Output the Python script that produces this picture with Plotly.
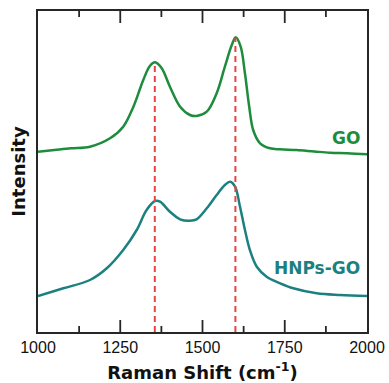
import numpy as np
import plotly.graph_objects as go

# Raman shift (cm^-1) and intensities (arbitrary units, offset stacked)
go_x = [1000, 1050, 1100, 1158, 1219, 1259, 1290, 1320, 1340, 1356, 1376, 1401,
        1432, 1462, 1482, 1513, 1543, 1568, 1589, 1601, 1616, 1629, 1642, 1654,
        1675, 1705, 1736, 1786, 1840, 1888, 1940, 2000]
go_y = [180.3, 182, 183.7, 185.3, 193.7, 205.3, 225.3, 252, 266, 269.7, 263.7, 245.3,
        225.3, 217, 216, 220.3, 238.7, 265.3, 287, 294.7, 285.3, 258.7, 225.3, 202,
        188.7, 183.7, 182.7, 182, 180.5, 179.3, 178.8, 177.7]

hnp_x = [1000, 1077, 1158, 1209, 1259, 1300, 1330, 1356, 1371, 1401, 1432, 1462,
         1482, 1513, 1543, 1568, 1584, 1599, 1614, 1629, 1644, 1665, 1695, 1736,
         1776, 1847, 1918, 2000]
hnp_y = [36, 43.7, 52, 63.7, 82, 102, 122, 131, 130.3, 120.3, 112.7, 111.3,
         112.7, 123.7, 137, 147, 150.3, 145.3, 125.3, 102, 82, 65.3, 55.3, 48.7,
         43.7, 38.7, 37, 36]

peaks = [1355, 1600]
x_range = [1000, 2000]
y_range = [0, 321]
major_ticks = [1000, 1250, 1500, 1750, 2000]
minor_ticks = [1125, 1375, 1625, 1875]

GREEN = "#1e8c3c"
TEAL = "#1c8080"
RED = "#e84444"
AX = "#262626"
FONT = "Arial, Liberation Sans, sans-serif"
BOLD = "DejaVu Sans, sans-serif"

fig = go.Figure()

fig.add_trace(go.Scatter(x=go_x, y=go_y, mode="lines", name="GO",
                         line=dict(color=GREEN, width=2.5, shape="spline", smoothing=1),
                         showlegend=False))
fig.add_trace(go.Scatter(x=hnp_x, y=hnp_y, mode="lines", name="HNPs-GO",
                         line=dict(color=TEAL, width=2.5, shape="spline", smoothing=1),
                         showlegend=False))

for p in peaks:
    top = float(np.interp(p, go_x, go_y))
    fig.add_trace(go.Scatter(x=[p, p], y=[0, top], mode="lines",
                             line=dict(color=RED, width=2, dash="6px,4px"),
                             showlegend=False, hoverinfo="skip"))

# inside tick marks on bottom and top frame edges (y units equal pixels here)
tx, ty = [], []
for ticks, length in ((major_ticks[1:-1], 12), (minor_ticks, 6)):
    for t in ticks:
        tx += [t, t, None, t, t, None]
        ty += [y_range[0], y_range[0] + length, None,
               y_range[1], y_range[1] - length, None]
fig.add_trace(go.Scatter(x=tx, y=ty, mode="lines", line=dict(color=AX, width=1.8),
                         showlegend=False, hoverinfo="skip", connectgaps=False))

fig.add_annotation(x=1985, y=go_y[-1] + 16, text="<b>GO</b>", showarrow=False,
                   xanchor="right", yanchor="middle",
                   font=dict(family=BOLD, size=17, color=GREEN))
fig.add_annotation(x=1985, y=hnp_y[-1] + 28, text="<b>HNPs-GO</b>", showarrow=False,
                   xanchor="right", yanchor="middle",
                   font=dict(family=BOLD, size=17, color=TEAL))

fig.update_layout(
    width=389, height=383,
    margin=dict(l=38, r=22, t=11, b=51),
    plot_bgcolor="white", paper_bgcolor="white",
    font=dict(family=FONT, color="#111"),
    xaxis=dict(
        range=x_range, tickmode="array", tickvals=major_ticks, ticks="",
        showline=True, linecolor=AX, linewidth=1.8, mirror=True,
        showgrid=False, zeroline=False, automargin=False,
        tickfont=dict(size=16, family=FONT, color="#111"),
        title=dict(text="<b>Raman Shift (cm<sup>-1</sup>)</b>",
                   font=dict(size=18, family=BOLD, color="#111"), standoff=12),
    ),
    yaxis=dict(
        range=y_range, showticklabels=False, ticks="", showline=True, linecolor=AX,
        linewidth=1.8, mirror=True, showgrid=False, zeroline=False, automargin=False,
        title=dict(text="<b>Intensity</b>", font=dict(size=18, family=BOLD, color="#111"),
                   standoff=6),
    ),
)

fig.write_html("out.html", config={"displayModeBar": False},
               post_script="document.body.style.margin='0';document.body.style.overflow='hidden';")
